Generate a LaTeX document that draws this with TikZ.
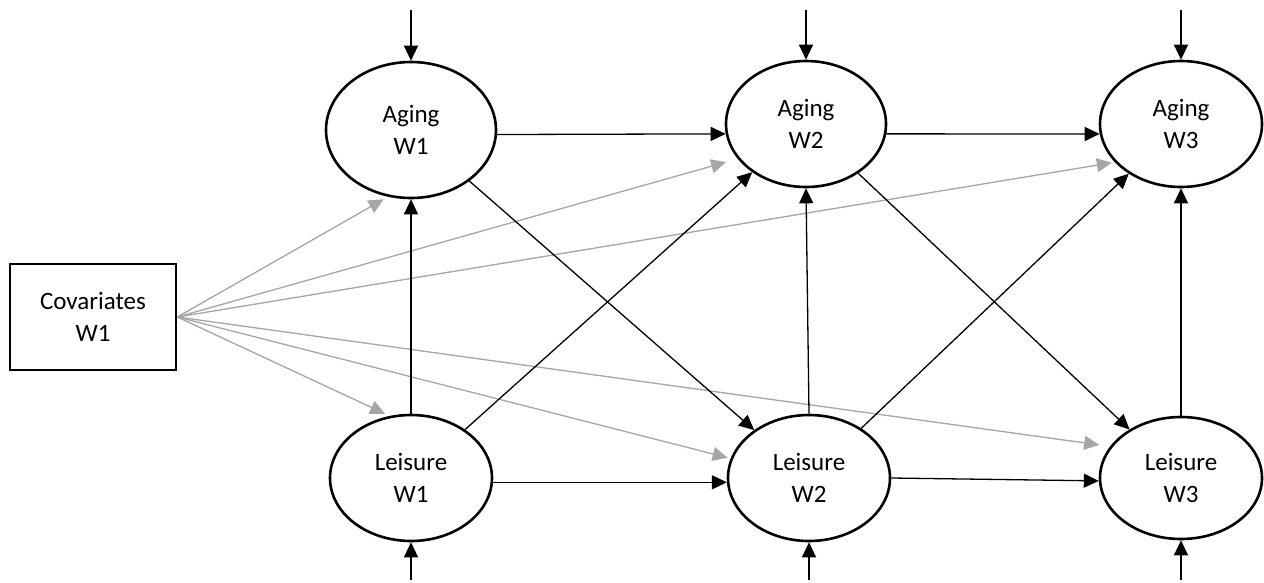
\documentclass[tikz,border=0pt]{standalone}
\usepackage{fontspec}
\setmainfont{Carlito}
\usetikzlibrary{shapes.geometric,arrows.meta}
\definecolor{covgray}{RGB}{166,166,166}
\begin{document}
\begin{tikzpicture}[x=1pt,y=-1pt,
  latent/.style={ellipse,draw,line width=2.6pt,inner sep=0pt,align=center,
    minimum width=162pt,minimum height=126pt,font=\fontsize{25}{32}\selectfont},
  observed/.style={rectangle,draw,line width=2.6pt,inner sep=0pt,align=center,
    minimum width=166pt,minimum height=106pt,font=\fontsize{25}{32}\selectfont},
  arr/.style={-{Triangle[length=15pt,width=14pt]},line width=1.3pt},
  covarr/.style={arr,draw=covgray,fill=covgray}]
\useasboundingbox (0,0) rectangle (1264,582);

% latent constructs
\node[latent,minimum width=170pt,minimum height=136pt] (aw1) at (411,130) {Aging\\W1};
\node[latent,minimum width=160pt] (aw2) at (806,124) {Aging\\W2};
\node[latent] (aw3) at (1181,124) {Aging\\W3};
\node[latent] (lw1) at (411,478) {Leisure\\W1};
\node[latent] (lw2) at (809,478) {Leisure\\W2};
\node[latent,minimum height=122pt] (lw3) at (1181,478) {Leisure\\W3};

% covariates
\node[observed] (cov) at (93,317) {Covariates\\W1};

% disturbance inputs
\coordinate (ta1) at (aw1.north |- 0,10);
\coordinate (ta2) at (aw2.north |- 0,10);
\coordinate (ta3) at (aw3.north |- 0,10);
\coordinate (bl1) at (lw1.south |- 0,580);
\coordinate (bl2) at (lw2.south |- 0,580);
\coordinate (bl3) at (lw3.south |- 0,580);
\foreach \a/\b in {ta1/aw1.north,ta2/aw2.north,ta3/aw3.north,
                   bl1/lw1.south,bl2/lw2.south,bl3/lw3.south}
  \draw[arr] (\a) -- (\b);

% covariate paths
\draw[covarr,shorten >=5pt]  (cov.east) -- (aw1.251.5);
\draw[covarr,shorten >=12pt] (cov.east) -- (aw2.207.6);
\draw[covarr,shorten >=3pt]  (cov.east) -- (aw3.210);
\draw[covarr,shorten >=5pt]  (cov.east) -- (lw1.109.4);
\draw[covarr,shorten >=3pt]  (cov.east) -- (lw2.166);
\draw[covarr,shorten >=11pt] (cov.east) -- (lw3.156.5);

% autoregressive paths
\draw[arr] (aw1.-3.4) -- (aw2.187.9);
\draw[arr] (aw2.-7.9) -- (aw3.187.8);
\draw[arr] (lw1.-3.5) -- (lw2.183.5);
\draw[arr] (lw2.-0.7) -- (lw3.182.8);

% within-wave paths
\draw[arr] (lw1.north) -- (aw1.south);
\draw[arr] (lw2.north) -- (aw2.south);
\draw[arr] (lw3.north) -- (aw3.south);

% cross-lagged paths
\draw[arr] (aw1) -- (lw2);
\draw[arr] (lw1) -- (aw2);
\draw[arr] (aw2) -- (lw3);
\draw[arr] (lw2) -- (aw3);
\end{tikzpicture}
\end{document}
